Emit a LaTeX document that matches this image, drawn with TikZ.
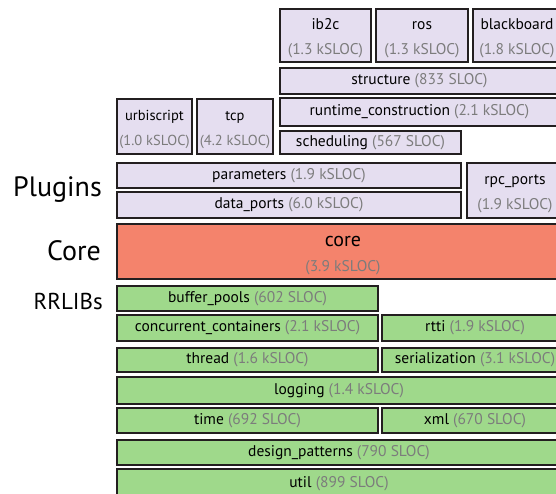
\documentclass[tikz,border=0pt]{standalone}
\usepackage{fontspec}
\setmainfont{PT Sans}
\definecolor{edge}{HTML}{231F20}
\definecolor{plugfill}{HTML}{E5DEF0}
\definecolor{corefill}{HTML}{F4836C}
\definecolor{libfill}{HTML}{9FD98B}
\definecolor{slocgray}{HTML}{7C7C7C}
\newcommand{\sloc}[1]{\textcolor{slocgray}{#1}}
\tikzset{dims/.style 2 args={minimum width=#1pt,minimum height=#2pt}}

\begin{document}
\begin{tikzpicture}[x=1pt,y=-1pt,nodes={draw=edge,line width=2.4pt,inner sep=0pt,align=center,font=\fontsize{15.5}{25}\selectfont}]
\tikzstyle{plugin}=[fill=plugfill]
\tikzstyle{twoline}=[text height=42.5pt,text depth=3.5pt]
\tikzstyle{corebox}=[fill=corefill,font=\fontsize{20}{25}\selectfont,text height=43.5pt,text depth=3.5pt]
\tikzstyle{rrlib}=[fill=libfill]
\tikzstyle{layer}=[draw=none,anchor=base east,font=\fontsize{28}{28}\selectfont]
\useasboundingbox (0,0) rectangle (556,494);
\clip (0,0) rectangle (556,494);
% plugins
\begin{scope}
\node[plugin,twoline,dims={90.5}{52.5}] (ib2c) at (325.5,35.5) {ib2c\\\sloc{(1.3 kSLOC)}};
\node[plugin,twoline,dims={91.5}{52.5}] (ros) at (422,35.5) {ros\\\sloc{(1.3 kSLOC)}};
\node[plugin,twoline,dims={87.5}{52.5}] (blackboard) at (517,35.5) {blackboard\\\sloc{(1.8 kSLOC)}};
\node[plugin,dims={278.5}{25.5}] (structure) at (419.5,81) {structure \sloc{(833 SLOC)}};
\node[plugin,dims={278.5}{27.5}] (runtime) at (419.5,112) {runtime\_construction \sloc{(2.1 kSLOC)}};
\node[plugin,dims={180.5}{22.5}] (scheduling) at (370.5,142.5) {scheduling \sloc{(567 SLOC)}};
\node[plugin,twoline,dims={74.5}{54.5},font=\fontsize{14.5}{25}\selectfont] (urbiscript) at (154.5,126.5) {urbiscript\\\sloc{(1.0 kSLOC)}};
\node[plugin,twoline,dims={75.5}{54.5},font=\fontsize{14.5}{25}\selectfont] (tcp) at (235,126.5) {tcp\\\sloc{(4.2 kSLOC)}};
\node[plugin,dims={343.5}{24.5}] (parameters) at (289,175.5) {parameters \sloc{(1.9 kSLOC)}};
\node[plugin,dims={343.5}{25.5}] (dataports) at (289,205) {data\_ports \sloc{(6.0 kSLOC)}};
\node[plugin,twoline,dims={95.5}{54.5}] (rpcports) at (515,190.5) {rpc\_ports\\\sloc{(1.9 kSLOC)}};
\end{scope}
% core
\node[corebox,dims={451.5}{54.5}] (core) at (343,251.5) {core\\\sloc{\fontsize{15.5}{25}\selectfont(3.9 kSLOC)}};
% rrlibs
\begin{scope}
\node[rrlib,dims={260.5}{24.5}] (bufferpools) at (247.5,298.5) {buffer\_pools \sloc{(602 SLOC)}};
\node[rrlib,dims={260.5}{25.5}] (concurrent) at (247.5,328) {concurrent\_containers \sloc{(2.1 kSLOC)}};
\node[rrlib,dims={186.5}{25.5}] (rtti) at (475,328) {rtti \sloc{(1.9 kSLOC)}};
\node[rrlib,dims={260.5}{23.5}] (thread) at (247.5,360) {thread \sloc{(1.6 kSLOC)}};
\node[rrlib,dims={186.5}{23.5}] (serialization) at (475,360) {serialization \sloc{(3.1 kSLOC)}};
\node[rrlib,dims={444.5}{26.5}] (logging) at (339,390.5) {logging \sloc{(1.4 kSLOC)}};
\node[rrlib,dims={260.5}{24.5}] (time) at (247.5,420.5) {time \sloc{(692 SLOC)}};
\node[rrlib,dims={186.5}{24.5}] (xml) at (475,420.5) {xml \sloc{(670 SLOC)}};
\node[rrlib,dims={444.5}{24.5}] (designpatterns) at (339,452.5) {design\_patterns \sloc{(790 SLOC)}};
\node[rrlib,dims={444.5}{30}] (util) at (339,484) {util \sloc{(899 SLOC)}};
\end{scope}
\node[layer] (plugins) at (103,197) {Plugins};
\node[layer] (corelabel) at (102,260) {Core};
\node[layer,font=\fontsize{23}{23}\selectfont] (rrlibs) at (104,309) {RRLIBs};
\end{tikzpicture}
\end{document}
